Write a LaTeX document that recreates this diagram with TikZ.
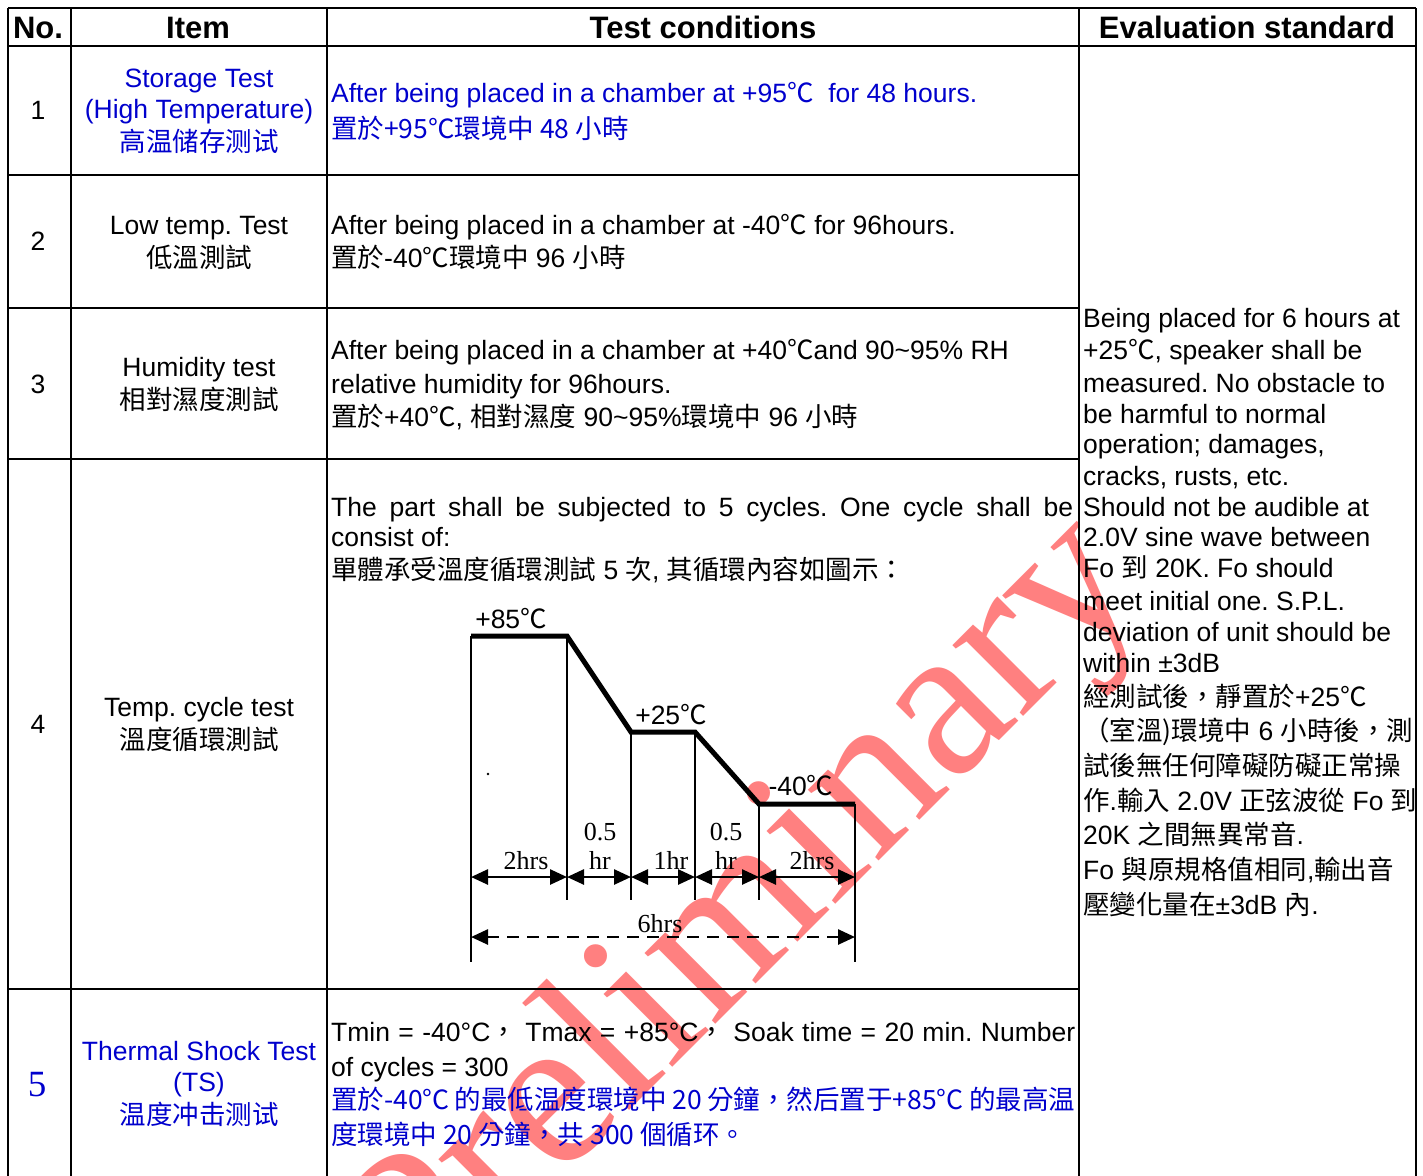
\documentclass[tikz,border=0pt]{standalone}
\usepackage{fontspec}
\setmainfont{Liberation Sans}
\newfontfamily\cjkfont{Noto Sans CJK TC}
\newfontfamily\tmsfont{Liberation Serif}
\usetikzlibrary{arrows.meta}
\definecolor{tblue}{RGB}{0,0,205}
\definecolor{wmred}{RGB}{255,128,128}
\newcommand\zh[1]{{\cjkfont #1}}
\newcommand\bodysize{\fontsize{26.5pt}{31pt}\selectfont}
\newcommand\hdrsize{\fontsize{31pt}{36pt}\selectfont\bfseries}
\newcommand\labsize{\fontsize{26pt}{30pt}\selectfont}
\frenchspacing
\begin{document}
\frenchspacing
\begin{tikzpicture}[x=1pt,y=-1pt,
  grid/.style={line width=2.6pt},
  hdr/.style={font=\hdrsize, anchor=base, inner sep=0pt},
  txt/.style={font=\bodysize, anchor=base west, inner sep=0pt},
  ctr/.style={font=\bodysize, anchor=base, inner sep=0pt},
  lab/.style={font=\labsize\tmsfont, anchor=base, inner sep=0pt},
  temp/.style={font=\bodysize, anchor=base, inner sep=0pt},
  wm/.style={font=\fontsize{218pt}{220pt}\selectfont\tmsfont, text=wmred, rotate=45, anchor=base west, inner sep=0pt},
  thinv/.style={line width=2pt},
  profile/.style={line width=5pt, line join=miter},
  dim/.style={line width=2.6pt, {Triangle[length=17pt,width=15pt]}-{Triangle[length=17pt,width=15pt]}},
  dimdash/.style={dim, dash pattern=on 12pt off 8pt}]
\useasboundingbox (0,0) rectangle (1423,1175);
\clip (0,0) rectangle (1423,1175);
\fill[white] (0,0) rectangle (1423,1175);
% watermark
\node[wm] (wm) at (421,1319) {Preliminary};
% grid
\draw[grid] (8,8) -- (1416,8);
\draw[grid] (8,46) -- (1416,46);
\draw[grid] (8,175) -- (1079,175);
\draw[grid] (8,308) -- (1079,308);
\draw[grid] (8,459) -- (1079,459);
\draw[grid] (8,989) -- (1079,989);
\foreach \x in {8,71,327,1079,1416} \draw[grid] (\x,8) -- (\x,1180);
% header
\node[hdr] (hno) at (38,38) {No.};
\node[hdr] (hitem) at (198,38) {Item};
\node[hdr] (htest) at (703,38) {Test conditions};
\node[hdr] (heval) at (1247,38) {Evaluation standard};
% numbers
\node[ctr] (n1) at (38,119.5) {1};
\node[ctr] (n2) at (38,250.5) {2};
\node[ctr] (n3) at (38,393.5) {3};
\node[ctr] (n4) at (38,733.5) {4};
\node[font=\fontsize{37pt}{40pt}\selectfont\tmsfont, text=tblue, anchor=base, inner sep=0pt] (n5) at (37,1096) {5};
% items
\node[ctr, text=tblue] (i1a) at (199,87.5) {Storage Test};
\node[ctr, text=tblue] (i1b) at (199,118.5) {(High Temperature)};
\node[ctr, text=tblue] (i1c) at (199,151) {\zh{高温储存测试}};
\node[ctr] (i2a) at (199,234.5) {Low temp. Test};
\node[ctr] (i2b) at (199,267) {\zh{低溫測試}};
\node[ctr] (i3a) at (199,376.5) {Humidity test};
\node[ctr] (i3b) at (199,409) {\zh{相對濕度測試}};
\node[ctr] (i4a) at (199,716.5) {Temp. cycle test};
\node[ctr] (i4b) at (199,749) {\zh{溫度循環測試}};
\node[ctr, text=tblue] (i5a) at (199,1060.5) {Thermal Shock Test};
\node[ctr, text=tblue] (i5b) at (199,1091.5) {(TS)};
\node[ctr, text=tblue] (i5c) at (199,1124) {\zh{温度冲击测试}};
% test conditions
\node[txt, text=tblue] (t1a) at (331,102.5) {After being placed in a chamber at +95\zh{℃}\ \ for 48 hours.};
\node[txt, text=tblue] (t1b) at (331,138) {\zh{置於+95℃環境中 48 小時}};
\node[txt] (t2a) at (331,234.5) {After being placed in a chamber at -40\zh{℃} for 96hours.};
\node[txt] (t2b) at (331,267) {\zh{置於}-40\zh{℃環境中} 96 \zh{小時}};
\node[txt] (t3a) at (331,359.5) {After being placed in a chamber at +40\zh{℃}and 90\textasciitilde 95\% RH};
\node[txt] (t3b) at (331,393.5) {relative humidity for 96hours.};
\node[txt] (t3c) at (331,426) {\zh{置於}+40\zh{℃}, \zh{相對濕度} 90\textasciitilde 95\%\zh{環境中} 96 \zh{小時}};
\node[txt] (t4a) at (331,516.5) {\makebox[742pt][s]{The part shall be subjected to 5 cycles. One cycle shall be}};
\node[txt] (t4b) at (331,546.5) {consist of:};
\node[txt] (t4c) at (331,579) {\zh{單體承受溫度循環測試} 5 \zh{次}, \zh{其循環內容如圖示：}};
\node[txt] (t5a) at (331,1041.5) {\makebox[744pt][s]{Tmin = -40°C\zh{，} Tmax = +85°C\zh{，} Soak time = 20 min. Number}};
\node[txt] (t5b) at (331,1076.5) {of cycles = 300};
\node[txt, text=tblue] (t5c) at (331,1109) {\makebox[744pt][s]{\zh{置於-40°C 的最低温度環境中 20 分鐘，然后置于+85°C 的最高温}}};
\node[txt, text=tblue] (t5d) at (331,1144) {\zh{度環境中 20 分鐘，共 300 個循环。}};
% evaluation standard
\node[txt] (e01) at (1083,327.5) {Being placed for 6 hours at};
\node[txt] (e02) at (1083,359.5) {+25\zh{℃}, speaker shall be};
\node[txt] (e03) at (1083,392.5) {measured. No obstacle to};
\node[txt] (e04) at (1083,423.5) {be harmful to normal};
\node[txt] (e05) at (1083,453.5) {operation; damages,};
\node[txt] (e06) at (1083,485.5) {cracks, rusts, etc.};
\node[txt] (e07) at (1083,516.5) {Should not be audible at};
\node[txt] (e08) at (1083,546.5) {2.0V sine wave between};
\node[txt] (e09) at (1083,577.5) {Fo \zh{到} 20K. Fo should};
\node[txt] (e10) at (1083,610.5) {meet initial one. S.P.L.};
\node[txt] (e11) at (1083,641.5) {deviation of unit should be};
\node[txt] (e12) at (1083,672.5) {within ±3dB};
\node[txt] (e13) at (1083,706) {\zh{經測試後，靜置於}+25\zh{℃}};
\node[txt] (e14) at (1083,740) {\zh{（室溫)環境中} 6 \zh{小時後，測}};
\node[txt] (e15) at (1083,775) {\zh{試後無任何障礙防礙正常操}};
\node[txt] (e16) at (1083,810) {\zh{作}.\zh{輸入} 2.0V \zh{正弦波從} Fo \zh{到}};
\node[txt] (e17) at (1083,844) {20K \zh{之間無異常音}.};
\node[txt] (e18) at (1083,879) {Fo \zh{與原規格值相同},\zh{輸出音}};
\node[txt] (e19) at (1083,914) {\zh{壓變化量在}±3dB \zh{內}.};
% cycle diagram
\coordinate (p0) at (471,636);
\coordinate (p1) at (567,636);
\coordinate (p2) at (631,732);
\coordinate (p3) at (695,732);
\coordinate (p4) at (759,804);
\coordinate (p5) at (855,804);
\coordinate (b0) at (471,962);
\coordinate (b1) at (567,900);
\coordinate (b2) at (631,900);
\coordinate (b3) at (695,900);
\coordinate (b4) at (759,900);
\coordinate (b5) at (855,962);
\foreach \i in {0,...,5} \draw[thinv] (p\i) -- (b\i);
\draw[profile] (p0) -- (p1) -- (p2) -- (p3) -- (p4) -- (p5);
\coordinate (a0) at (471,877);
\coordinate (a1) at (567,877);
\coordinate (a2) at (631,877);
\coordinate (a3) at (695,877);
\coordinate (a4) at (759,877);
\coordinate (a5) at (855,877);
\draw[dim] (a0) -- (a1);
\draw[dim] (a1) -- (a2);
\draw[dim] (a2) -- (a3);
\draw[dim] (a3) -- (a4);
\draw[dim] (a4) -- (a5);
\coordinate (d0) at (471,937);
\coordinate (d1) at (855,937);
\draw[dimdash] (d0) -- (d1);
\node[temp] (l85) at (511,628) {+85\zh{℃}};
\node[temp] (l25) at (671,724) {+25\zh{℃}};
\node[temp] (l40) at (801,795) {-40\zh{℃}};
\node[lab] (s1) at (526,869) {2hrs};
\node[lab] (s2a) at (600,840) {0.5};
\node[lab] (s2b) at (600,869) {hr};
\node[lab] (s3) at (671,869) {1hr};
\node[lab] (s4a) at (726,840) {0.5};
\node[lab] (s4b) at (726,869) {hr};
\node[lab] (s5) at (812,869) {2hrs};
\node[lab] (s6) at (660,932) {6hrs};
\fill (488,774) circle (1.3pt);
\end{tikzpicture}
\end{document}
